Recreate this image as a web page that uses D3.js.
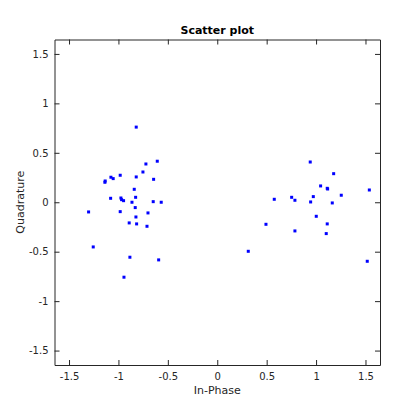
<!DOCTYPE html>
<html><head><meta charset="utf-8">
<script src="https://cdn.jsdelivr.net/npm/d3@7"></script>
<style>body{margin:0;background:#fff}svg{display:block}text{font-family:"DejaVu Sans",sans-serif}</style>
</head><body>
<svg id="c" width="420" height="420"></svg>
<script>
const xVals = [-0.82,-0.607,-0.722,-0.752,-0.644,-0.82,-0.982,-1.076,-1.053,-1.134,-1.137,-0.84,-0.826,-1.079,-0.975,-0.968,-0.948,-0.863,-0.648,-0.567,-0.83,-1.302,-0.982,-0.701,-0.823,-0.891,-0.816,-0.711,-1.255,-0.884,-0.593,-0.944,
 0.941,1.178,1.046,1.113,1.117,1.539,1.255,0.972,0.577,0.753,0.786,0.945,1.164,1.002,1.113,0.493,0.786,1.103,0.314,1.518];
const yVals = [0.76,0.415,0.387,0.306,0.232,0.256,0.273,0.253,0.239,0.215,0.202,0.131,0.05,0.04,0.043,0.026,0.016,0.0,0.006,0.0,-0.054,-0.098,-0.095,-0.108,-0.149,-0.209,-0.219,-0.243,-0.452,-0.556,-0.583,-0.758,
 0.407,0.289,0.165,0.141,0.134,0.124,0.071,0.057,0.030,0.05,0.02,0.003,-0.007,-0.142,-0.219,-0.223,-0.29,-0.317,-0.496,-0.597];
const tickVals = [-1.5,-1,-0.5,0,0.5,1,1.5];
const tickLabels = ["-1.5","-1","-0.5","0","0.5","1","1.5"];

const svg = d3.select("#c");
const L=54.5, R=380, T=39.5, B=365;
const x = d3.scaleLinear().domain([-1.647,1.647]).range([L,R]);
const y = d3.scaleLinear().domain([-1.646,1.646]).range([B,T]);
const ink="#262626";
const fmt = d => tickLabels[tickVals.indexOf(d)];

svg.append("g").attr("transform",`translate(0,${B})`)
  .call(d3.axisBottom(x).tickValues(tickVals).tickFormat(fmt).tickSizeInner(-5).tickSizeOuter(0).tickPadding(8));
svg.append("g").attr("transform",`translate(0,${T})`)
  .call(d3.axisTop(x).tickValues(tickVals).tickFormat("").tickSizeInner(-5).tickSizeOuter(0));
svg.append("g").attr("transform",`translate(${L},0)`)
  .call(d3.axisLeft(y).tickValues(tickVals).tickFormat(fmt).tickSizeInner(-5).tickSizeOuter(0).tickPadding(6));
svg.append("g").attr("transform",`translate(${R},0)`)
  .call(d3.axisRight(y).tickValues(tickVals).tickFormat("").tickSizeInner(-5).tickSizeOuter(0));
svg.selectAll(".domain").attr("stroke",ink);
svg.selectAll(".tick line").attr("stroke",ink);
svg.selectAll(".tick text").attr("fill",ink).attr("font-size",10).attr("font-family","DejaVu Sans");

svg.append("g").selectAll("rect").data(xVals.map((v,i)=>[v,yVals[i]])).join("rect")
  .attr("x",d=>x(d[0])-1.5).attr("y",d=>y(d[1])-1.5).attr("width",3).attr("height",3).attr("fill","#0000ff");

svg.append("text").attr("x",(L+R)/2).attr("y",34).attr("text-anchor","middle")
  .attr("font-size",11).attr("font-weight","bold").attr("fill","#000").text("Scatter plot");
svg.append("text").attr("x",(L+R)/2).attr("y",394).attr("text-anchor","middle")
  .attr("font-size",11).attr("fill",ink).text("In-Phase");
svg.append("text").attr("transform",`translate(24,${(T+B)/2}) rotate(-90)`).attr("text-anchor","middle")
  .attr("font-size",11).attr("fill",ink).text("Quadrature");
</script>
</body></html>
